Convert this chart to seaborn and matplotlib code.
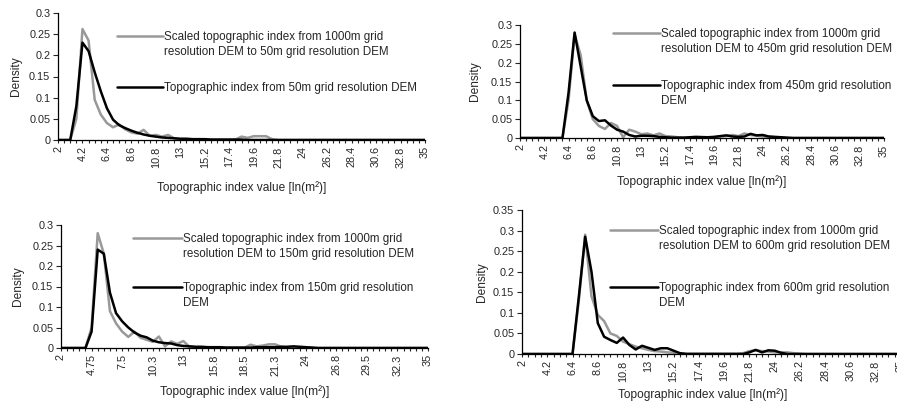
import matplotlib
matplotlib.use("Agg")
import matplotlib.pyplot as plt
import seaborn as sns

# Classes do índice topográfico (eixo x categórico, passo 0.55)
categorias = [2, 2.55, 3.1, 3.65, 4.2, 4.75, 5.3, 5.85, 6.4, 6.95,
              7.5, 8.05, 8.6, 9.15, 9.7, 10.25, 10.8, 11.35, 11.9, 12.45,
              13, 13.55, 14.1, 14.65, 15.2, 15.75, 16.3, 16.85, 17.4, 17.95,
              18.5, 19.05, 19.6, 20.15, 20.7, 21.25, 21.8, 22.35, 22.9, 23.45,
              24, 24.55, 25.1, 25.65, 26.2, 26.75, 27.3, 27.85, 28.4, 28.95,
              29.5, 30.05, 30.6, 31.15, 31.7, 32.25, 32.8, 33.35, 33.9, 34.45,
              35]

# Rótulos do eixo x
rotulos_a = ['2', '4.2', '6.4', '8.6', '10.8', '13', '15.2', '17.4', '19.6',
             '21.8', '24', '26.2', '28.4', '30.6', '32.8', '35']
rotulos_b = ['2', '4.75', '7.5', '10.3', '13', '15.8', '18.5', '21.3', '24',
             '26.8', '29.5', '32.3', '35']

# ----- 50m -----
esc_50 = [0, 0, 0, 0.05, 0.262, 0.235, 0.095, 0.06, 0.04, 0.03,
          0.037, 0.025, 0.018, 0.015, 0.024, 0.01, 0.012, 0.008, 0.012, 0.004,
          0.002, 0.001, 0.001, 0.001, 0.001, 0.001, 0.001, 0.001, 0.001, 0.001,
          0.008, 0.005, 0.009, 0.009, 0.009, 0.002, 0, 0, 0, 0,
          0, 0, 0, 0, 0, 0, 0, 0, 0, 0,
          0, 0, 0, 0, 0, 0, 0, 0, 0, 0,
          0]
topo_50 = [0, 0, 0, 0.08, 0.23, 0.21, 0.16, 0.115, 0.075, 0.048,
           0.035, 0.028, 0.022, 0.017, 0.013, 0.01, 0.008, 0.006, 0.005, 0.004,
           0.003, 0.003, 0.002, 0.002, 0.002, 0.001, 0.001, 0.001, 0.001, 0.001,
           0.001, 0, 0, 0, 0, 0, 0, 0, 0, 0,
           0, 0, 0, 0, 0, 0, 0, 0, 0, 0,
           0, 0, 0, 0, 0, 0, 0, 0, 0, 0,
           0]

# ----- 450m -----
esc_450 = [0, 0, 0, 0, 0, 0, 0, 0, 0.1, 0.275,
           0.22, 0.1, 0.05, 0.032, 0.024, 0.04, 0.032, 0.002, 0.022, 0.017,
           0.01, 0.012, 0.007, 0.012, 0.005, 0.004, 0.002, 0.001, 0.001, 0.002,
           0.003, 0.002, 0.002, 0.004, 0.005, 0.008, 0.005, 0.012, 0.008, 0.006,
           0.004, 0.003, 0.002, 0.001, 0, 0, 0, 0, 0, 0,
           0, 0, 0, 0, 0, 0, 0, 0, 0, 0,
           0]
topo_450 = [0, 0, 0, 0, 0, 0, 0, 0, 0.12, 0.28,
            0.19, 0.1, 0.058, 0.045, 0.047, 0.033, 0.022, 0.017, 0.008, 0.004,
            0.006, 0.006, 0.005, 0.003, 0.002, 0.001, 0.001, 0.001, 0.002, 0.003,
            0.002, 0.002, 0.003, 0.005, 0.007, 0.004, 0.003, 0.004, 0.011, 0.007,
            0.008, 0.004, 0.003, 0.002, 0.001, 0, 0, 0, 0, 0,
            0, 0, 0, 0, 0, 0, 0, 0, 0, 0,
            0]

# ----- 150m -----
esc_150 = [0, 0, 0, 0, 0, 0.05, 0.28, 0.23, 0.09, 0.06,
           0.04, 0.027, 0.04, 0.025, 0.02, 0.015, 0.028, 0.004, 0.016, 0.01,
           0.017, 0.003, 0.002, 0.001, 0.001, 0.001, 0.001, 0.001, 0.001, 0.001,
           0.001, 0.008, 0.004, 0.006, 0.009, 0.009, 0.003, 0.001, 0.001, 0.002,
           0.002, 0.001, 0, 0, 0, 0, 0, 0, 0, 0,
           0, 0, 0, 0, 0, 0, 0, 0, 0, 0,
           0]
topo_150 = [0, 0, 0, 0, 0, 0.04, 0.24, 0.23, 0.135, 0.085,
            0.065, 0.05, 0.038, 0.03, 0.026, 0.018, 0.014, 0.012, 0.011, 0.007,
            0.005, 0.004, 0.003, 0.003, 0.002, 0.002, 0.002, 0.001, 0.001, 0.001,
            0.001, 0.001, 0.002, 0.002, 0.002, 0.002, 0.003, 0.003, 0.004, 0.003,
            0.002, 0.001, 0, 0, 0, 0, 0, 0, 0, 0,
            0, 0, 0, 0, 0, 0, 0, 0, 0, 0,
            0]

# ----- 600m -----
esc_600 = [0, 0, 0, 0, 0, 0, 0, 0, 0, 0.13,
           0.29, 0.14, 0.095, 0.08, 0.05, 0.044, 0.03, 0.024, 0.018, 0.014,
           0.01, 0.007, 0.006, 0.004, 0.003, 0.002, 0.001, 0.001, 0.001, 0.001,
           0.001, 0.001, 0.001, 0.001, 0.001, 0.002, 0.007, 0.009, 0.007, 0.006,
           0.004, 0.004, 0.004, 0.002, 0.001, 0, 0, 0, 0, 0,
           0, 0, 0, 0, 0, 0, 0, 0, 0, 0,
           0]
topo_600 = [0, 0, 0, 0, 0, 0, 0, 0, 0, 0.14,
            0.285, 0.2, 0.075, 0.042, 0.034, 0.027, 0.04, 0.022, 0.011, 0.02,
            0.015, 0.01, 0.014, 0.014, 0.008, 0.002, 0, 0, 0, 0,
            0, 0, 0, 0, 0, 0, 0.004, 0.01, 0.004, 0.009,
            0.008, 0.003, 0, 0, 0, 0, 0, 0, 0, 0,
            0, 0, 0, 0, 0, 0, 0, 0, 0, 0,
            0]

sns.set_style('ticks')
plt.rcParams['font.family'] = ['Liberation Sans', 'DejaVu Sans']

W, H = 897, 404
fig = plt.figure(figsize=(W / 100, H / 100), dpi=100)


def px(x, y):
    # pixel (origem no topo) -> fração da figura
    return x / W, 1 - y / H


cinza = '#999999'
lw = 1.8

# (esquerda, direita, topo, base) em pixels, dados, rótulos, ymax, legenda
paineis = [
    dict(caixa=(58, 425, 13, 140), esc=esc_50, topo=topo_50, rot=rotulos_a, passo=4, ymax=0.3,
         ylab_x=16, xlab_y=188,
         leg=(117, 163, 36, 87),
         txt_esc=['Scaled topographic index from 1000m grid',
                  'resolution DEM to 50m grid resolution DEM'],
         txt_topo=['Topographic index from 50m grid resolution DEM']),
    dict(caixa=(520, 884, 25, 138), esc=esc_450, topo=topo_450, rot=rotulos_a, passo=4, ymax=0.3,
         ylab_x=475, xlab_y=182,
         leg=(613, 660, 33, 85),
         txt_esc=['Scaled topographic index from 1000m grid',
                  'resolution DEM to 450m grid resolution DEM'],
         txt_topo=['Topographic index from 450m grid resolution', 'DEM']),
    dict(caixa=(61, 428, 225, 348), esc=esc_150, topo=topo_150, rot=rotulos_b, passo=5, ymax=0.3,
         ylab_x=18, xlab_y=392,
         leg=(133, 182, 238, 287),
         txt_esc=['Scaled topographic index from 1000m grid',
                  'resolution DEM to 150m grid resolution DEM'],
         txt_topo=['Topographic index from 150m grid resolution', 'DEM']),
    dict(caixa=(522, 901, 210, 354), esc=esc_600, topo=topo_600, rot=rotulos_a, passo=4, ymax=0.35,
         ylab_x=482, xlab_y=395,
         leg=(610, 658, 230, 287),
         txt_esc=['Scaled topographic index from 1000m grid',
                  'resolution DEM to 600m grid resolution DEM'],
         txt_topo=['Topographic index from 600m grid resolution', 'DEM']),
]

for p in paineis:
    x0, x1, y0, y1 = p['caixa']
    ax = fig.add_axes([x0 / W, 1 - y1 / H, (x1 - x0) / W, (y1 - y0) / H])

    sns.lineplot(x=categorias, y=p['esc'], ax=ax, color=cinza, linewidth=lw)
    sns.lineplot(x=categorias, y=p['topo'], ax=ax, color='black', linewidth=lw)

    ax.set_xlim(categorias[0], categorias[-1])
    ax.set_ylim(0, p['ymax'])

    # todos os ticks de categoria, rótulo só a cada 'passo'
    rot_iter = iter(p['rot'])
    labels = [next(rot_iter) if k % p['passo'] == 0 else '' for k in range(len(categorias))]
    ax.set_xticks(categorias)
    ax.set_xticklabels(labels, rotation=90, fontsize=7.8)

    yt = [k * 0.05 for k in range(int(round(p['ymax'] / 0.05)) + 1)]
    ax.set_yticks(yt)
    ax.set_yticklabels([f'{v:g}' for v in yt], fontsize=7.8)

    ax.tick_params(axis='x', length=2.5, width=0.8, pad=2, direction='out')
    ax.tick_params(axis='y', length=3.5, width=0.8, pad=2, direction='out')
    for s in ['top', 'right']:
        ax.spines[s].set_visible(False)
    for s in ['left', 'bottom']:
        ax.spines[s].set_linewidth(0.9)
        ax.spines[s].set_color('black')

    ax.set_xlabel('Topographic index value [ln(m²)]', fontsize=8.6)
    ax.set_ylabel('Density', fontsize=8.6)
    ax.xaxis.label.set_va('center')
    ax.yaxis.label.set_va('center')
    ax.xaxis.set_label_coords((x0 + min(x1, 884)) / 2 / W,
                              1 - p['xlab_y'] / H, transform=fig.transFigure)
    ax.yaxis.set_label_coords(p['ylab_x'] / W, 1 - (y0 + y1) / 2 / H,
                              transform=fig.transFigure)

    # legenda manual (estilo Excel, linha alinhada à primeira linha do texto)
    lx0, lx1, ly_esc, ly_topo = p['leg']
    for cor, ly, linhas in [(cinza, ly_esc, p['txt_esc']), ('black', ly_topo, p['txt_topo'])]:
        a, b = px(lx0, ly)
        c, _ = px(lx1, ly)
        fig.add_artist(plt.Line2D([a, c], [b, b], color=cor, linewidth=lw,
                                  transform=fig.transFigure))
        for j, t in enumerate(linhas):
            tx, ty = px(lx1 + 1, ly + 1 + 15 * j)
            fig.text(tx, ty, t, fontsize=8.4, va='center', ha='left')

fig.savefig('out.png', dpi=100, facecolor='white')
